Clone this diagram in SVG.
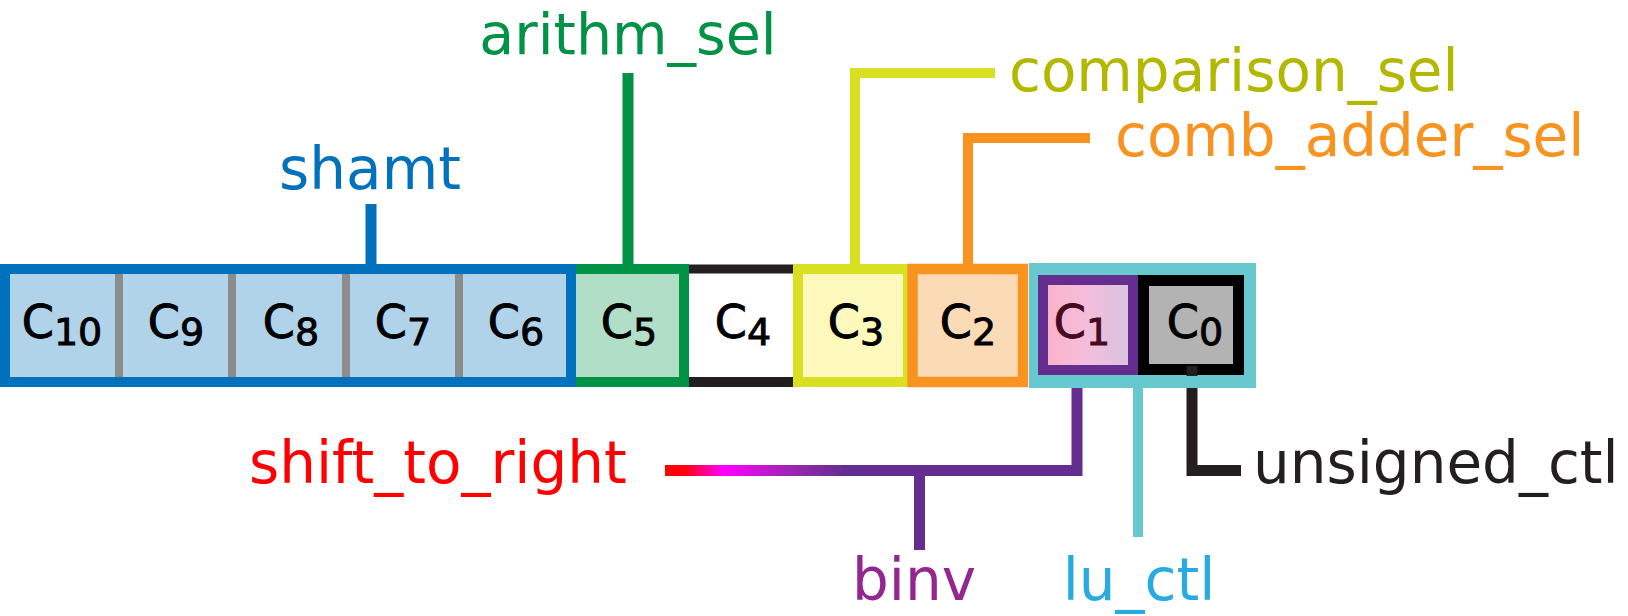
<svg xmlns="http://www.w3.org/2000/svg" width="1628" height="616" viewBox="0 0 1628 616">
<defs>
<linearGradient id="gShift" gradientUnits="userSpaceOnUse" x1="665" y1="0" x2="920" y2="0">
<stop offset="0" stop-color="#ff0000"/>
<stop offset="0.08" stop-color="#ff0010"/>
<stop offset="0.23" stop-color="#ff00ff"/>
<stop offset="0.5" stop-color="#9a27b0"/>
<stop offset="0.7" stop-color="#662d91"/>
<stop offset="1" stop-color="#662d91"/>
</linearGradient>
<linearGradient id="gC1" x1="0" y1="0" x2="1" y2="0">
<stop offset="0" stop-color="#f9b2c6"/>
<stop offset="0.45" stop-color="#f6bddb"/>
<stop offset="1" stop-color="#d6c3e0"/>
</linearGradient>
</defs>
<style>
.lbl{font-family:"DejaVu Sans","Liberation Sans",sans-serif;font-size:58px}
.cell{font-family:"DejaVu Sans","Liberation Sans",sans-serif;font-size:46px;fill:#000;stroke:#000;stroke-width:0.9px;text-anchor:middle}
.sub{font-size:38px}
.con{fill:none;stroke-linecap:butt;stroke-linejoin:miter}
</style>

<g id="connectors">
<line class="con" x1="371" y1="204" x2="371" y2="266" stroke="#0071bc" stroke-width="11"/>
<line class="con" x1="628" y1="73" x2="628" y2="266" stroke="#009245" stroke-width="11"/>
<polyline class="con" points="855,266 855,73 995,73" stroke="#d9e021" stroke-width="10"/>
<polyline class="con" points="968,266 968,138 1090,138" stroke="#f7931e" stroke-width="10"/>
<line class="con" x1="665" y1="470.5" x2="921" y2="470.5" stroke="url(#gShift)" stroke-width="11"/>
<polyline class="con" points="1077,372 1077,470.5 915,470.5" stroke="#662d91" stroke-width="11"/>
<line class="con" x1="919.5" y1="470" x2="919.5" y2="550" stroke="#662d91" stroke-width="11"/>
<line class="con" x1="1138" y1="385" x2="1138" y2="537" stroke="#67c8d0" stroke-width="10"/>
<polyline class="con" points="1192,368 1192,470.5 1241,470.5" stroke="#231f20" stroke-width="11"/>
</g>

<g id="c5">
<rect x="571" y="269" width="113" height="113" fill="#b1dec6" stroke="#009245" stroke-width="10"/>
<text class="cell" x="629" y="338">C<tspan class="sub" dy="7">5</tspan></text>
</g>
<g id="shamt-field">
<rect x="5" y="269" width="566" height="113" fill="#b0d3ea" stroke="#0071bc" stroke-width="10"/>
<g stroke="#8c8c8c" stroke-width="8">
<line x1="119" y1="274" x2="119" y2="377"/>
<line x1="232" y1="274" x2="232" y2="377"/>
<line x1="346" y1="274" x2="346" y2="377"/>
<line x1="459" y1="274" x2="459" y2="377"/>
</g>
</g>
<g id="c10"><text class="cell" x="62" y="338">C<tspan class="sub" dy="7">10</tspan></text></g>
<g id="c9"><text class="cell" x="176" y="338">C<tspan class="sub" dy="7">9</tspan></text></g>
<g id="c8"><text class="cell" x="291" y="338">C<tspan class="sub" dy="7">8</tspan></text></g>
<g id="c7"><text class="cell" x="403" y="338">C<tspan class="sub" dy="7">7</tspan></text></g>
<g id="c6"><text class="cell" x="516" y="338">C<tspan class="sub" dy="7">6</tspan></text></g>

<g id="c4">
<rect x="689" y="264" width="104" height="123" fill="#ffffff"/>
<line x1="689" y1="269" x2="793" y2="269" stroke="#231f20" stroke-width="9"/>
<line x1="689" y1="382" x2="793" y2="382" stroke="#231f20" stroke-width="10"/>
<text class="cell" x="743" y="338">C<tspan class="sub" dy="7">4</tspan></text>
</g>
<g id="c3">
<rect x="798" y="269" width="110" height="113" fill="#fdf9bd" stroke="#d9e021" stroke-width="10"/>
<text class="cell" x="856" y="338">C<tspan class="sub" dy="7">3</tspan></text>
</g>
<g id="c2">
<rect x="912.5" y="269" width="110.5" height="113" fill="#fbdbb6" stroke="#f7931e" stroke-width="10.5"/>
<text class="cell" x="968" y="338">C<tspan class="sub" dy="7">2</tspan></text>
</g>
<g id="lu-field">
<rect x="1029" y="263" width="227" height="125" fill="#67c8d0"/>
</g>
<g id="c1">
<rect x="1043" y="280" width="90" height="90" fill="url(#gC1)" stroke="#662d91" stroke-width="10"/>
<text class="cell" x="1082" y="338" style="fill:#470a22;stroke:#470a22">C<tspan class="sub" dy="7">1</tspan></text>
</g>
<g id="c0">
<rect x="1143.5" y="280.5" width="95" height="89" fill="#b3b3b3" stroke="#000000" stroke-width="11"/>
<text class="cell" x="1195" y="338">C<tspan class="sub" dy="7">0</tspan></text>
</g>
<line x1="1192" y1="366" x2="1192" y2="376" stroke="#231f20" stroke-width="11"/>

<g id="labels">
<text class="lbl" x="628" y="54" text-anchor="middle" fill="#009245" style="font-size:57px">arithm_sel</text>
<text class="lbl" x="370" y="189" text-anchor="middle" fill="#0071bc">shamt</text>
<text class="lbl" x="1009" y="91" fill="#b2b800">comparison_sel</text>
<text class="lbl" x="1115" y="156" fill="#f7931e">comb_adder_sel</text>
<text class="lbl" x="249" y="483" fill="#ff0000">shift_to_right</text>
<text class="lbl" x="914" y="600" text-anchor="middle" fill="#93278f">binv</text>
<text class="lbl" x="1139" y="600" text-anchor="middle" fill="#29abe2">lu_ctl</text>
<text class="lbl" x="1253" y="483" fill="#231f20">unsigned_ctl</text>
</g>
</svg>
